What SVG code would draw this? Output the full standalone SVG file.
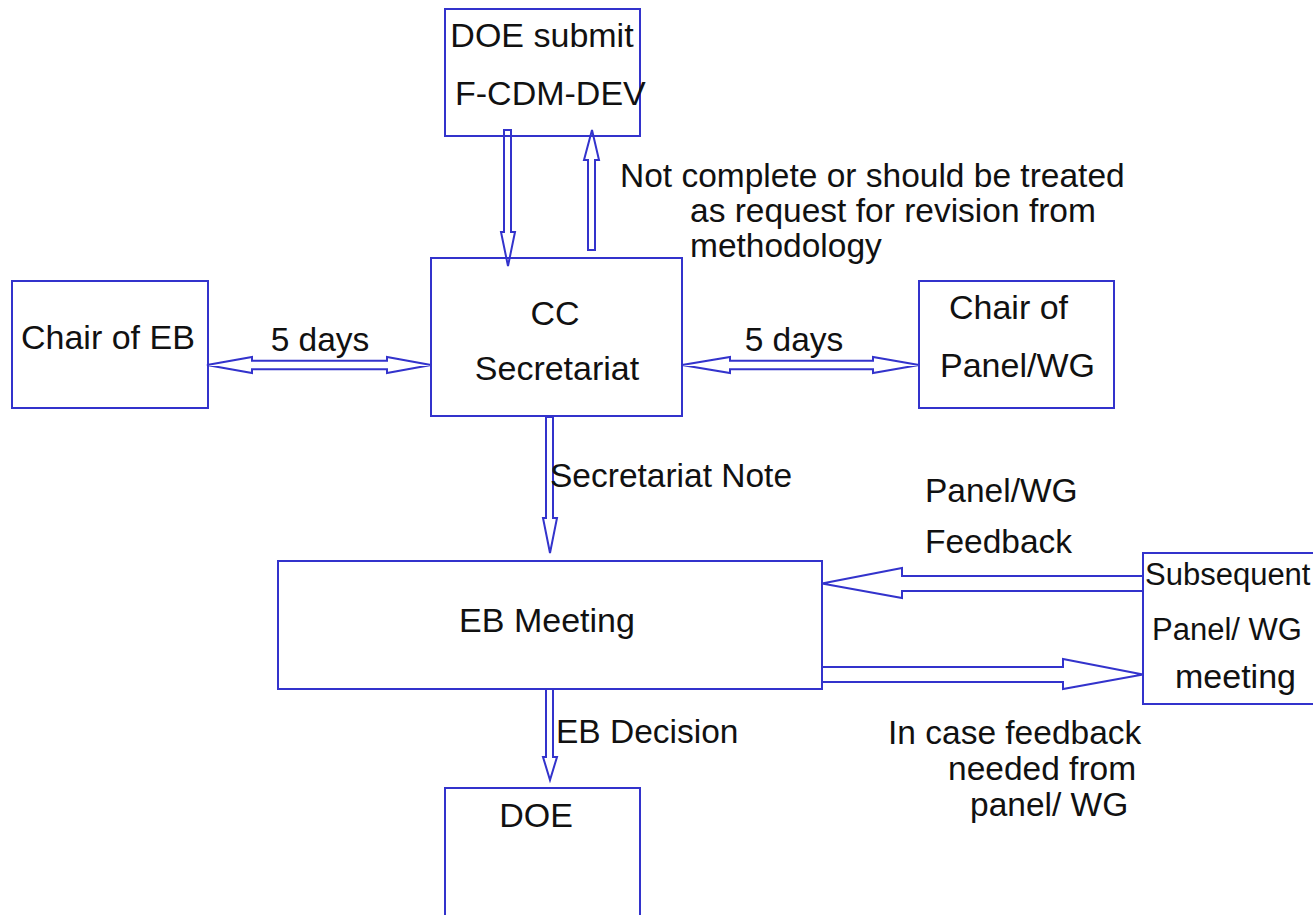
<svg xmlns="http://www.w3.org/2000/svg" width="1313" height="915" viewBox="0 0 1313 915">
<style>
.box{fill:#fff;stroke:#3333CC;stroke-width:2}
.arr{fill:none;stroke:#3333CC;stroke-width:2;stroke-linejoin:miter}
text{font-family:"Liberation Sans",Arial,sans-serif;fill:#111;font-size:34px}
.lbl{font-size:33.5px}
.m{text-anchor:middle}
.sm{font-size:31px}
</style>
<rect width="1313" height="915" fill="#fff"/>
<g id="doe-submit">
<rect class="box" x="445" y="9" width="195" height="127"/>
<text class="m" x="542" y="47">DOE submit</text>
<text x="455" y="105">F-CDM-DEV</text>
</g>
<g id="cc-secretariat">
<rect class="box" x="431" y="258" width="251" height="158"/>
<text class="m" x="555" y="325">CC</text>
<text class="m" x="557" y="380">Secretariat</text>
</g>
<g id="chair-eb">
<rect class="box" x="12" y="281" width="196" height="127"/>
<text x="21" y="349">Chair of EB</text>
</g>
<g id="chair-panel">
<rect class="box" x="919" y="281" width="195" height="127"/>
<text x="949" y="319">Chair of</text>
<text x="940" y="377">Panel/WG</text>
</g>
<g id="eb-meeting">
<rect class="box" x="278" y="561" width="544" height="128"/>
<text class="m" x="547" y="632">EB Meeting</text>
</g>
<g id="subsequent">
<rect class="box" x="1143" y="553" width="200" height="151"/>
<text class="sm" x="1145" y="585">Subsequent</text>
<text class="sm" x="1152" y="640">Panel/ WG</text>
<text x="1175" y="688">meeting</text>
</g>
<g id="doe">
<rect class="box" x="445" y="788" width="195" height="140"/>
<text class="m" x="536" y="827">DOE</text>
</g>
<g id="connectors">
<polygon class="arr" points="504,130 511,130 511,232 515,232 508,266 501,232 504,232"/>
<polygon class="arr" points="588,250 595,250 595,160 599,160 592,130 584,160 588,160"/>
<polygon class="arr" points="207,365 252,357 252,360.7 387,360.7 387,357 431,365 387,373 387,369.3 252,369.3 252,373"/>
<polygon class="arr" points="682,365 730,357 730,360.7 873,360.7 873,357 919,365 873,373 873,369.3 730,369.3 730,373"/>
<polygon class="arr" points="546,417 553,417 553,518 557,518 550,553 543,518 546,518"/>
<polygon class="arr" points="546,689 553,689 553,757 557,757 550,780 543,757 546,757"/>
<polygon class="arr" points="1143,576 902,576 902,568 822,583.5 902,598 902,591 1143,591"/>
<polygon class="arr" points="822,667 1063,667 1063,659 1143,674.5 1063,689 1063,682 822,682"/>
<text class="lbl" x="620" y="187">Not complete or should be treated</text>
<text class="lbl" x="690" y="222">as request for revision from</text>
<text class="lbl" x="690" y="257">methodology</text>
<text class="lbl m" x="320" y="351">5 days</text>
<text class="lbl m" x="794" y="351">5 days</text>
<text class="lbl" x="550" y="487">Secretariat Note</text>
<text class="lbl" x="925" y="502">Panel/WG</text>
<text class="lbl" x="925" y="553">Feedback</text>
<text class="lbl" x="556" y="743">EB Decision</text>
<text class="lbl" x="888" y="744">In case feedback</text>
<text class="lbl" x="948" y="780">needed from</text>
<text class="lbl" x="970" y="816">panel/ WG</text>
</g>
</svg>
